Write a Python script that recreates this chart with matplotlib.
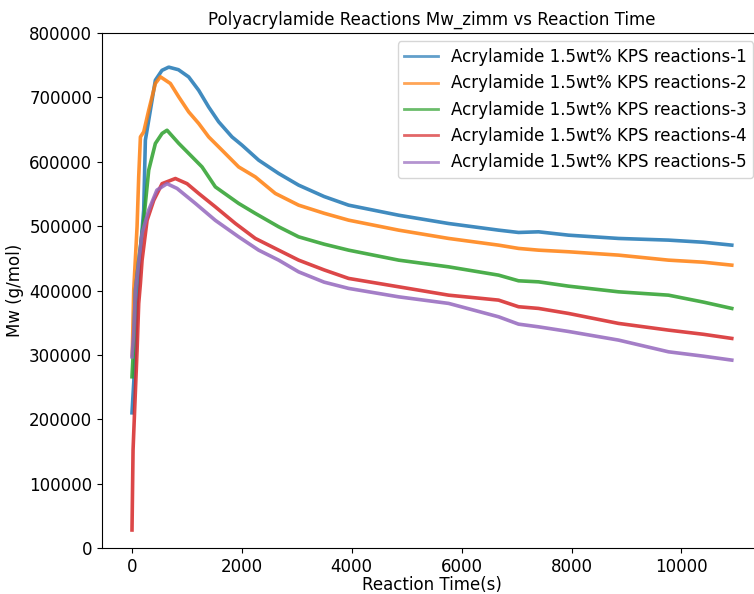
import matplotlib
matplotlib.use("Agg")
import matplotlib.pyplot as plt

# reaction time (s) and Mw (g/mol), one pair of lists per run
t1 = [5, 36, 67, 100, 158, 218, 248, 339, 430, 550, 673, 850, 1036, 1218, 1400, 1582, 1824, 2006,
      2309, 2673, 3036, 3500, 3945, 4855, 5764, 6673, 7036, 7400, 7945, 8855, 9764, 10400, 10915]
mw1 = [210000, 256000, 307000, 385000, 463000, 525000, 633500, 680000, 726700, 742000, 747000, 743000,
       731800, 711000, 685000, 662000, 638600, 625800, 602500, 581800, 563700, 546000, 532600, 517000,
       504100, 493800, 490200, 491200, 486000, 480900, 478300, 475000, 470500]

t2 = [10, 36, 97, 127, 158, 218, 309, 430, 521, 703, 855, 1036, 1218, 1400, 1642, 1945, 2248, 2612,
      3036, 3500, 3945, 4855, 5764, 6673, 7036, 7400, 7945, 8855, 9764, 10400, 10915]
mw2 = [300000, 400000, 499000, 576500, 638600, 646400, 680000, 721600, 732000, 721600, 700800,
       677500, 659500, 638600, 618000, 592000, 576500, 550800, 532600, 520000, 509300, 493800, 480900,
       470500, 465400, 462700, 460200, 455000, 447200, 444000, 439400]

t3 = [5, 36, 67, 127, 218, 309, 430, 552, 642, 855, 1036, 1279, 1521, 1945, 2248, 2673, 3036, 3500,
      3945, 4855, 5764, 6673, 7036, 7400, 7945, 8855, 9764, 10400, 10915]
mw3 = [266000, 318000, 400600, 447000, 509300, 587000, 628400, 644000, 649000, 628600, 613000,
       592000, 561000, 535300, 519800, 499000, 483400, 472000, 462700, 447200, 436800, 423900, 415100,
       413500, 406800, 398000, 392800, 382000, 372200]

t4 = [5, 24, 55, 97, 127, 158, 188, 279, 400, 552, 794, 1006, 1218, 1521, 1885, 2248, 2673, 3036,
      3500, 3945, 4855, 5764, 6673, 7036, 7400, 7945, 8855, 9764, 10400, 10915]
mw4 = [28000, 152000, 219000, 307000, 380000, 411000, 447000, 509000, 540000, 566000, 574000,
       566000, 550800, 530000, 504200, 480900, 462700, 447200, 432000, 418800, 405800, 392800, 385100,
       374800, 372200, 364400, 348900, 338500, 332000, 325600]

t5 = [5, 36, 67, 188, 309, 458, 642, 824, 1158, 1521, 1945, 2309, 2673, 3036, 3500, 3945, 4855,
      5764, 6673, 7036, 7400, 7945, 8855, 9764, 10400, 10915]
mw5 = [297000, 334000, 400600, 488700, 525000, 556000, 566000, 558600, 535300, 509000, 483400,
       462700, 447200, 429000, 413000, 403300, 390200, 380000, 359200, 347800, 343600, 336400, 323000,
       304800, 298000, 291900]

times = [t1, t2, t3, t4, t5]
mws = [mw1, mw2, mw3, mw4, mw5]
labels = ["Acrylamide 1.5wt%% KPS reactions-%d" % (i + 1) for i in range(5)]

fig = plt.figure(figsize=(7.54, 5.94), dpi=100)
ax = fig.add_axes([0.1353, 0.0774, 0.875, 0.867])

for t, mw, lab in zip(times, mws, labels):
    ax.plot(t, mw, linewidth=2.6, alpha=0.85, label=lab)

ax.set_ylim(0, 800000)
ax.set_title("Polyacrylamide Reactions Mw_zimm vs Reaction Time", fontsize=12)
ax.set_xlabel("Reaction Time(s)", fontsize=12, labelpad=0)
ax.set_ylabel("Mw (g/mol)", fontsize=12)
ax.tick_params(labelsize=12)
leg = ax.legend(loc="upper right", fontsize=12)
for h in leg.get_lines():
    h.set_linewidth(2)
    h.set_alpha(0.7)

fig.savefig("out.png", dpi=100)
